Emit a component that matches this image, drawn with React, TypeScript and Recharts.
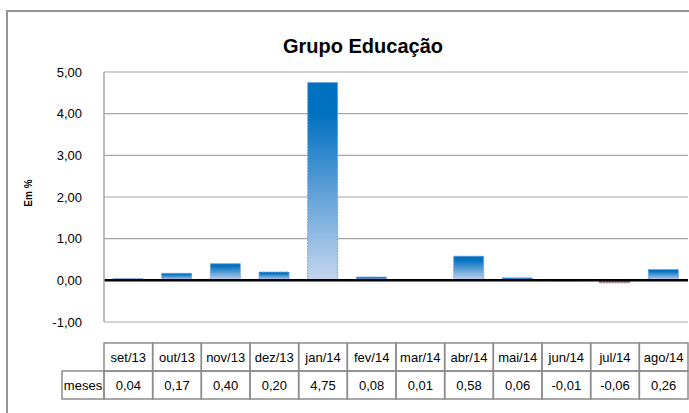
import React from 'react';
import { BarChart, Bar, XAxis, YAxis, CartesianGrid, ReferenceLine, Cell } from 'recharts';

const categories = ['set/13', 'out/13', 'nov/13', 'dez/13', 'jan/14', 'fev/14', 'mar/14', 'abr/14', 'mai/14', 'jun/14', 'jul/14', 'ago/14'];
const values = [0.04, 0.17, 0.4, 0.2, 4.75, 0.08, 0.01, 0.58, 0.06, -0.01, -0.06, 0.26];
const yTicks = [-1, 0, 1, 2, 3, 4, 5];
const seriesName = 'meses';
const title = 'Grupo Educação';
const yLabel = 'Em %';

const data = categories.map((c, i) => ({ name: c, value: values[i] }));

const W = 689;
const H = 413;
const PLOT_LEFT = 104;
const PLOT_RIGHT = 688;
const PLOT_TOP = 72;
const PLOT_BOTTOM = 322;
const COL_W = (PLOT_RIGHT - PLOT_LEFT) / categories.length;
const TABLE_TOP = 343;
const ROW1_H = 28;
const ROW2_H = 28;
const LABEL_CELL_LEFT = 62;
const FONT = "'Liberation Sans', Arial, sans-serif";
const GRID = '#A6A6A6';
const TABLE_STROKE = '#8C8C8C';

const fmt = (v: number) => v.toFixed(2).replace('.', ',');

const TableTick = (props: any) => {
  const { x, payload, index } = props;
  const left = x - COL_W / 2;
  return (
    <g>
      <rect x={left} y={TABLE_TOP} width={COL_W} height={ROW1_H} fill="none" stroke={TABLE_STROKE} strokeWidth={1.5} />
      <rect x={left} y={TABLE_TOP + ROW1_H} width={COL_W} height={ROW2_H} fill="none" stroke={TABLE_STROKE} strokeWidth={1.5} />
      <text x={x} y={TABLE_TOP + 19} textAnchor="middle" fontSize={13} fontFamily={FONT} fill="#000">
        {payload.value}
      </text>
      <text x={x} y={TABLE_TOP + ROW1_H + 19} textAnchor="middle" fontSize={13} fontFamily={FONT} fill="#000">
        {fmt(values[index])}
      </text>
      {index === 0 && (
        <g>
          <rect x={LABEL_CELL_LEFT} y={TABLE_TOP + ROW1_H} width={left - LABEL_CELL_LEFT} height={ROW2_H} fill="none" stroke={TABLE_STROKE} strokeWidth={1.5} />
          <text x={(LABEL_CELL_LEFT + left) / 2} y={TABLE_TOP + ROW1_H + 19} textAnchor="middle" fontSize={13} fontFamily={FONT} fill="#000">
            {seriesName}
          </text>
        </g>
      )}
    </g>
  );
};

export default function App() {
  return (
    <div style={{ position: 'fixed', left: 0, top: 0, width: W, height: H, overflow: 'hidden', background: '#fff' }}>
      <div
        style={{
          position: 'absolute',
          left: 6,
          top: 10,
          width: 720,
          height: 440,
          border: '2px solid #959595',
          boxSizing: 'border-box',
        }}
      />
      <div style={{ position: 'absolute', left: 0, top: 0 }}>
        <BarChart
          width={W}
          height={H}
          data={data}
          margin={{ top: PLOT_TOP, right: W - PLOT_RIGHT, bottom: 0, left: 0 }}
        >
          <defs>
            <linearGradient id="barGrad" x1="0" y1="0" x2="0" y2="1">
              <stop offset="0" stopColor="#0070C0" />
              <stop offset="0.15" stopColor="#0070C0" />
              <stop offset="1" stopColor="#C6D6EF" />
            </linearGradient>
          </defs>
          <CartesianGrid vertical={false} stroke={GRID} strokeWidth={1.2} />
          <XAxis
            dataKey="name"
            axisLine={false}
            tickLine={false}
            height={H - PLOT_BOTTOM}
            interval={0}
            tick={<TableTick />}
          />
          <YAxis
            domain={[-1, 5]}
            ticks={yTicks}
            width={PLOT_LEFT}
            axisLine={{ stroke: GRID, strokeWidth: 1.5 }}
            tickLine={false}
            tickMargin={16}
            tickFormatter={fmt}
            tick={{ fontSize: 13, fontFamily: FONT, fill: '#000' }}
            interval={0}
          />
          <Bar dataKey="value" barSize={30} fill="url(#barGrad)" isAnimationActive={false}>
            {data.map((d, i) => (
              <Cell
                key={i}
                fill="url(#barGrad)"
                stroke={d.value < -0.03 ? '#C0504D' : '#6FA3DC'}
                strokeWidth={1}
                strokeDasharray="2 1"
              />
            ))}
          </Bar>
          <ReferenceLine y={0} stroke="#000" strokeWidth={2.5} />
        </BarChart>
      </div>
      <svg width={W} height={H} style={{ position: 'absolute', left: 0, top: 0, pointerEvents: 'none' }}>
        <text x={363} y={53} textAnchor="middle" fontSize={20} fontWeight="bold" fontFamily={FONT} fill="#000">
          {title}
        </text>
        <text
          x={28}
          y={193}
          transform="rotate(-90 28 193)"
          textAnchor="middle"
          dominantBaseline="central"
          fontSize={10}
          fontWeight="bold"
          fontFamily={FONT}
          fill="#000"
        >
          {yLabel}
        </text>
      </svg>
    </div>
  );
}
